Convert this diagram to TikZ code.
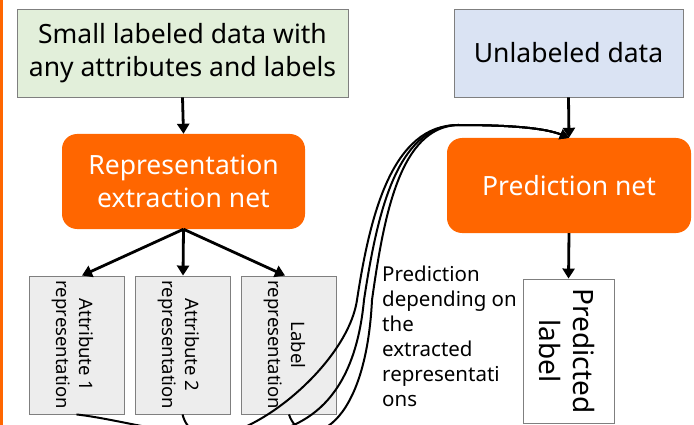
\documentclass[tikz,border=0pt]{standalone}
\usepackage{fontspec}
\setmainfont{Noto Sans}
\usetikzlibrary{arrows.meta}
\definecolor{orng}{HTML}{FF6600}
\definecolor{greenfill}{HTML}{E2EFDA}
\definecolor{bluefill}{HTML}{DAE3F3}
\definecolor{grayfill}{HTML}{EDEDED}
\definecolor{edgegray}{HTML}{7F7F7F}
\begin{document}
\begin{tikzpicture}[x=1pt,y=-1pt,
  databox/.style={draw=edgegray, line width=0.9pt, inner sep=0pt, align=center,
    font=\fontsize{26.5}{33}\selectfont},
  netbox/.style={fill=orng, rounded corners=15pt, inner sep=0pt, align=center,
    text=white, font=\fontsize{26.5}{33}\selectfont},
  repbox/.style={draw=edgegray, line width=0.9pt, fill=grayfill, inner sep=0pt,
    minimum width=95pt, minimum height=138pt},
  reptext/.style={rotate=-90, align=center, inner sep=0pt,
    font=\fontsize{18.5}{23}\selectfont},
  arr/.style={line width=2.8pt, -{Triangle[length=10pt,width=12pt]}},
  curv/.style={line width=2pt, -{Triangle[length=9pt,width=10pt]}}]
\useasboundingbox (0,0) rectangle (694,425);
% left orange edge
\fill[orng] (0,0) rectangle (3,425);

% top boxes
\node[databox, fill=greenfill, minimum width=331pt, minimum height=88pt] (src) at (182.5,53)
  {Small labeled data with\\any attributes and labels};
\node[databox, fill=bluefill, minimum width=229pt, minimum height=88pt] (unl) at (568.5,53)
  {Unlabeled data};

% nets
\node[netbox, minimum width=243pt, minimum height=95pt] (rep) at (183.5,181.5)
  {Representation\\extraction net};
\node[netbox, minimum width=244pt, minimum height=95pt] (pn) at (569,185.5)
  {Prediction net};

% representation boxes
\node[repbox] (b1) at (76.5,345) {};
\node[repbox] (b2) at (182.5,345) {};
\node[repbox] (b3) at (289,345) {};
\node[reptext] (t1) at ([xshift=-4pt]b1.center) {Attribute 1\\representation};
\node[reptext] (t2) at ([xshift=-4pt]b2.center) {Attribute 2\\representation};
\node[reptext] (t3) at ([xshift=-4pt]b3.center) {Label\\representation};

% predicted label
\node[draw=edgegray, line width=0.9pt, fill=white, minimum width=91pt, minimum height=144pt,
  inner sep=0pt] (pl) at (568.5,351) {};
\node[rotate=-90, align=center, inner sep=0pt, font=\fontsize{28}{34}\selectfont] (plt)
  at ([xshift=-2pt]pl.center) {Predicted\\label};

% explanation text
\node[anchor=north west, align=left, inner sep=0pt, font=\fontsize{20.5}{25}\selectfont] (expl)
  at (382,266) {Prediction\\depending on\\the\\extracted\\representati\\ons};

% straight arrows
\draw[arr] (src.south) -- (rep.north);
\draw[arr] (rep.south) -- ([xshift=5.5pt]b1.north);
\draw[arr] (rep.south) -- ([xshift=0.5pt]b2.north);
\draw[arr] (rep.south) -- ([xshift=-4pt]b3.north);
\draw[arr] (unl.south) -- (pn.north);
\draw[arr] (pn.south) -- (pl.north);

% curved connectors
\draw[curv] (b2.south) .. controls (200,480) and (345,380) .. (357,300)
  .. controls (370,215) and (392,125) .. (458,125)
  .. controls (510,125) and (545,128) .. (pn.north);
\draw[curv] (b1.south) .. controls (170,425) and (345,500) .. (364,300)
  .. controls (377,215) and (396,126) .. (458,125)
  .. controls (510,125) and (545,128) .. (pn.north);
\draw[curv] (b3.south) .. controls (300,450) and (365,440) .. (372,300)
  .. controls (384,215) and (400,127) .. (458,125)
  .. controls (510,125) and (545,128) .. (pn.north);
\end{tikzpicture}
\end{document}
